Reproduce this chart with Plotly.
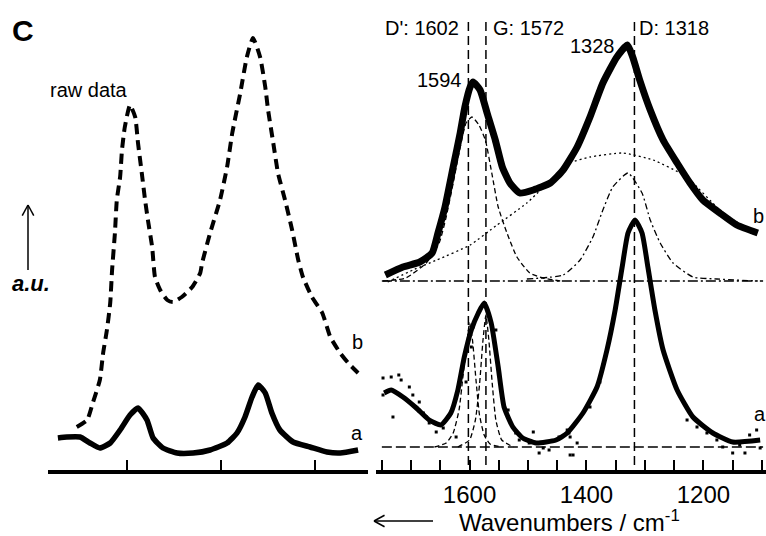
import math
import plotly.graph_objects as go

FONT = "Arial, Liberation Sans, sans-serif"

# ---------------- Left panel: raw spectra ----------------
left_b_wn = [1706,1684,1672,1657,1650,1642,1635,1631,1625,1621,1614,1610,1604,1593,1582,1576,1568,1561,1555,1546,
             1540,1529,1514,1502,1483,1461,1444,1440,1423,1402,1387,1376,1359,1345,1332,1317,1306,1300,1289,1279,
             1264,1249,1236,1226,1207,1185,1168,1147,1130,1109]
left_b_int = [43,50,67,90,117,140,167,200,237,270,293,320,343,365,353,327,297,270,250,223,
              193,180,170,168,173,183,197,207,237,270,303,337,377,413,432,413,383,360,327,297,
              270,240,210,193,173,157,133,117,107,97]

left_a_wn = [1746,1727,1699,1678,1657,1635,1614,1593,1576,1557,1544,1523,1493,1459,1423,1387,1366,1349,1334,1321,
             1306,1292,1275,1247,1211,1175,1147,1109]
left_a_int = [32,33,33,27,22,27,40,55,62,50,32,22,17,17,20,27,37,53,73,85,
              77,57,40,28,23,18,17,20]

# ---------------- Right panel: fitted spectra ----------------
right_b_wn = [1744,1714,1685,1664,1654,1642,1628,1616,1608,1599,1594,1582,1570,1556,1544,1531,1514,1491,1462,1440,
              1416,1394,1372,1348,1330,1321,1309,1291,1269,1245,1223,1201,1172,1143,1107]
right_b_int = [195,203,208,217,237,263,303,337,363,383,388,380,357,330,303,287,277,280,287,300,
               323,353,387,413,425,413,390,360,330,307,287,270,257,245,237]

rb_dp_wn = [1748,1709,1674,1652,1640,1628,1618,1606,1596,1584,1573,1562,1551,1536,1519,1497,1474,1445]
rb_dp_int = [189,192,207,227,253,287,317,347,353,345,330,297,263,237,213,197,192,189]

rb_broad_wn = [1740,1697,1656,1599,1553,1502,1428,1394,1338,1286,1240,1223,1172,1143,1107]
rb_broad_int = [188,200,210,225,245,267,307,313,317,310,297,290,260,248,236]

rb_d_wn = [1502,1440,1411,1389,1372,1355,1329,1305,1291,1274,1252,1218,1177,1107]
rb_d_int = [191,195,210,233,260,283,297,277,250,227,207,193,191,189]

right_a_wn = [1746,1734,1714,1691,1669,1649,1632,1620,1609,1597,1585,1575,1563,1551,1541,1526,1509,1486,1452,1433,
              1406,1382,1365,1351,1339,1329,1317,1305,1295,1283,1269,1245,1218,1184,1150,1103]
right_a_int = [77,80,73,62,50,45,57,80,113,140,157,167,147,103,63,43,32,27,30,37,
               57,83,120,160,203,237,250,237,203,160,120,80,53,37,28,30]

ra_dp_wn = [1660,1640,1628,1618,1611,1605,1600,1595,1589,1583,1575,1565,1545]
ra_dp_int = [23,27,37,60,95,125,147,130,90,55,35,26,23]
ra_g_wn = [1620,1600,1590,1583,1577,1572,1567,1561,1555,1545,1525]
ra_g_int = [23,30,50,85,130,155,130,85,50,30,23]

noise_wn = [1748,1734,1721,1717,1703,1697,1686,1731,1748,1679,1669,1657,1645,1637,1674,1623,1606,1597,1594,1555,
            1534,1521,1498,1481,1464,1447,1430,1423,1491,1474,1515,1433,1428,1428,1416,1394,1377,1228,1211,1194,
            1167,1150,1138,1121,1109,1103,1129,1177]
noise_int = [92,93,95,90,83,75,68,53,75,57,47,38,42,53,53,33,88,123,143,140,
             60,37,27,17,20,33,37,15,38,22,30,40,33,15,27,63,88,50,43,37,
             23,17,25,35,40,22,17,30]

base_b = 189
base_a = 23
base_span = [1750, 1098]

peak_pos = [1602, 1572, 1318]
peak_labels = ["D': 1602", "G: 1572", "D: 1318"]

left_ticks = [1600, 1400, 1200]
major_step, minor_step = 200, 50

fig = go.Figure()

def line(x, y, ax, width, dash="solid", shape="spline", smooth=0.5):
    fig.add_trace(go.Scatter(x=x, y=y, mode="lines", xaxis=ax[0], yaxis=ax[1],
                             line=dict(color="black", width=width, dash=dash, shape=shape,
                                       smoothing=smooth if shape == "spline" else None),
                             hoverinfo="skip", showlegend=False))

L = ("x", "y")
R = ("x2", "y2")

# left panel
line(left_b_wn, left_b_int, L, 4, dash="10px,6px")
line(left_a_wn, left_a_int, L, 5.5)

# right panel: guides
for p in peak_pos:
    line([p, p], [5, 451], R, 1.5, dash="9px,5px", shape="linear")
line(base_span, [base_b, base_b], R, 1.3, dash="10px,3px,2px,3px", shape="linear")
line(base_span, [base_a, base_a], R, 1.3, dash="10px,4px", shape="linear")

# components
line(rb_dp_wn, rb_dp_int, R, 1.3, dash="5px,3px")
line(rb_broad_wn, rb_broad_int, R, 1.3, dash="2px,3px")
line(rb_d_wn, rb_d_int, R, 1.3, dash="6px,3px,2px,3px")
line(ra_dp_wn, ra_dp_int, R, 1.3, dash="5px,3px")
line(ra_g_wn, ra_g_int, R, 1.3, dash="5px,3px")

# noise points for a
fig.add_trace(go.Scatter(x=noise_wn, y=noise_int, mode="markers", xaxis="x2", yaxis="y2",
                         marker=dict(symbol="square", size=3, color="black"),
                         hoverinfo="skip", showlegend=False))
# main spectra
line(right_b_wn, right_b_int, R, 7)
line(right_a_wn, right_a_int, R, 5)

W, H = 766, 536
ML, MR, MT, MB = 48, 0, 10, 66
PW, PH = W - ML - MR, H - MT - MB

def px(xp):
    return (xp - ML) / PW

def py(yp):
    return (MT + PH - yp) / PH

axis_common = dict(showline=True, linecolor="black", linewidth=4, showgrid=False, zeroline=False,
                   ticks="inside", ticklen=10, tickwidth=2, tickcolor="black",
                   tickfont=dict(family=FONT, size=24, color="black"))

fig.update_layout(
    width=W, height=H,
    margin=dict(l=ML, r=MR, t=MT, b=MB),
    paper_bgcolor="white", plot_bgcolor="white",
    font=dict(family=FONT, color="black"),
    showlegend=False,
    xaxis=dict(domain=[0, px(368)], range=[1767, 1088], tickmode="array", tickvals=left_ticks,
               showticklabels=False, anchor="y", **axis_common),
    xaxis2=dict(domain=[px(376), 1.0], range=[1760, 1093], tickmode="linear", tick0=1200, dtick=major_step,
                minor=dict(tickmode="linear", tick0=1100, dtick=minor_step, ticks="inside", ticklen=10,
                           tickwidth=2, tickcolor="black", showgrid=False),
                anchor="y2", ticklabelstandoff=0, **axis_common),
    yaxis=dict(domain=[0, 1], range=[0, 460], visible=False, anchor="x"),
    yaxis2=dict(domain=[0, 1], range=[0, 460], visible=False, anchor="x2"),
)

ann = []
def text(t, x, y, size=20, xanchor="center", xref="paper", yref="paper", **kw):
    ann.append(dict(text=t, x=x, y=y, xref=xref, yref=yref, xanchor=xanchor, yanchor="middle",
                    showarrow=False, font=dict(family=FONT, size=size, color="black"), **kw))

text("<b>C</b>", px(23), py(31), size=30)
text("<b><i>a.u.</i></b>", px(31), py(283), size=22)
text("raw data", px(89), py(90))
text("b", px(357), py(342))
text("a", px(357), py(433))

text(peak_labels[0], 1614, 442, xanchor="right", xref="x2", yref="y2")
text(peak_labels[1], 1563, 442, xanchor="left", xref="x2", yref="y2")
text(peak_labels[2], 1313, 442, xanchor="left", xref="x2", yref="y2")
text("1328", 1347, 424, xanchor="right", xref="x2", yref="y2")
text("1594", 1610, 390, xanchor="right", xref="x2", yref="y2")
text("b", px(758), py(216))
text("a", px(760), py(414))

text("Wavenumbers / cm<sup>-1</sup>", px(569), py(521), size=24)
fig.update_layout(annotations=ann)

# arrows drawn as line shapes (shaft + open head)
def arrow_shapes(x0, y0, x1, y1, head=12):
    shapes = [dict(type="line", xref="paper", yref="paper", x0=px(x0), y0=py(y0), x1=px(x1), y1=py(y1),
                   line=dict(color="black", width=1.5))]
    ang = math.atan2(y1 - y0, x1 - x0)
    for s in (1, -1):
        a = ang + math.pi - s * 0.5
        hx, hy = x1 + head * math.cos(a), y1 + head * math.sin(a)
        shapes.append(dict(type="line", xref="paper", yref="paper", x0=px(x1), y0=py(y1), x1=px(hx), y1=py(hy),
                           line=dict(color="black", width=1.5)))
    return shapes

shapes = arrow_shapes(28, 270, 28, 205, head=12) + arrow_shapes(433, 521, 374, 521, head=12)
fig.update_layout(shapes=shapes)
fig.write_html("out.html")
